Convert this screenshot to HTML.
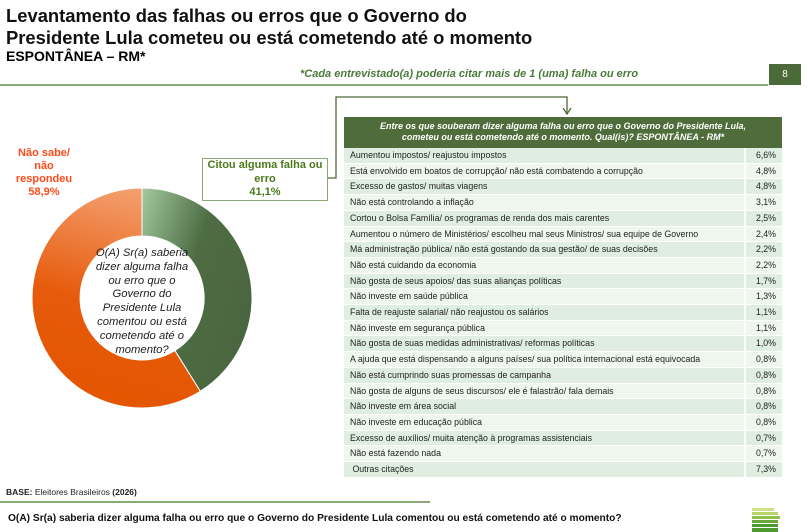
<!DOCTYPE html>
<html><head><meta charset="utf-8"><style>
body{margin:0;width:808px;height:532px;background:#fff;font-family:"Liberation Sans",sans-serif;position:relative;overflow:hidden}
.a{position:absolute}
.t{left:6px;top:5px;font-size:18.4px;font-weight:bold;line-height:22px;color:#111}
table{border-collapse:separate;border-spacing:0 1.3px;font-size:8.8px;color:#222}
td{height:14.7px;padding:0 0 0 6px;line-height:14.7px}
tr:nth-child(odd) td{background:#dfeee0}
tr:nth-child(even) td{background:#eef6ee}
td.v{text-align:right;padding-right:6px;border-left:2px solid #fff}
</style></head><body>
<div class="a t">Levantamento das falhas ou erros que o Governo do<br>Presidente Lula cometeu ou está cometendo até o momento</div>
<div class="a" style="left:6px;top:48px;font-size:14px;font-weight:bold">ESPONTÂNEA – RM*</div>
<div class="a" style="left:300px;top:68px;font-size:11px;font-style:italic;font-weight:bold;color:#4a7a3a">*Cada entrevistado(a) poderia citar mais de 1 (uma) falha ou erro</div>
<div class="a" style="left:0;top:84px;width:768px;height:2px;background:#8aa878"></div>
<div class="a" style="left:769px;top:64px;width:32px;height:21px;background:#4a6a38;color:#fff;font-size:10px;text-align:center;line-height:21px">8</div>

<svg class="a" style="left:0;top:0" width="808" height="532">
<defs>
<linearGradient id="g" x1="0" y1="0" x2="1" y2="0.6"><stop offset="0" stop-color="#a3c9a0"/><stop offset="0.5" stop-color="#4e6d43"/><stop offset="1" stop-color="#4a6640"/></linearGradient>
<linearGradient id="o" x1="0.6" y1="0" x2="0.4" y2="1"><stop offset="0" stop-color="#f4a070"/><stop offset="0.55" stop-color="#e65a0a"/><stop offset="1" stop-color="#e45500"/></linearGradient>
</defs>
<path d="M142 188 A110 110 0 0 1 200.3 391.3 L174.9 350.6 A62 62 0 0 0 142 236 Z" fill="url(#g)" stroke="#fff" stroke-width="1"/>
<path d="M200.3 391.3 A110 110 0 1 1 142 188 L142 236 A62 62 0 1 0 174.9 350.6 Z" fill="url(#o)" stroke="#fff" stroke-width="1"/>
<polyline points="327,178 336,178 336,97 567,97 567,113" fill="none" stroke="#4a6a38" stroke-width="1.3"/>
<polyline points="563,108 567,114 571,108" fill="none" stroke="#4a6a38" stroke-width="1.3"/>
<line x1="0" y1="502" x2="430" y2="502" stroke="#8aa878" stroke-width="2"/>
<rect x="752" y="508" width="22" height="3" fill="#cde08a"/>
<rect x="752" y="512" width="26" height="3" fill="#b6d468"/>
<rect x="752" y="516" width="28" height="3" fill="#8fc04a"/>
<rect x="752" y="520" width="26" height="3" fill="#6aa83a"/>
<rect x="752" y="524" width="26" height="3" fill="#4f9a30"/>
<rect x="752" y="528" width="26" height="4" fill="#4f9a30"/>
</svg>
<div class="a" style="left:90px;top:247px;width:104px;text-align:center;font-size:11.3px;font-style:italic;line-height:13.8px;color:#222">O(A) Sr(a) saberia dizer alguma falha ou erro que o Governo do Presidente Lula comentou ou está cometendo até o momento?</div>
<div class="a" style="left:6px;top:147px;width:76px;text-align:center;font-size:11px;font-weight:bold;color:#ff4a1a;line-height:13px">Não sabe/<br>não<br>respondeu<br>58,9%</div>
<div class="a" style="left:202px;top:158px;width:124px;height:41px;border:1px solid #8aa878;background:#fff;text-align:center;font-size:11px;font-weight:bold;color:#4a7a1a;line-height:13.5px">Citou alguma falha ou erro<br>41,1%</div>
<div class="a" style="left:344px;top:117px;width:438px;height:31px;background:#4e6d3a;color:#fff;font-size:9px;font-style:italic;font-weight:bold;text-align:center;line-height:11px;padding-top:4px;box-sizing:border-box">Entre os que souberam dizer alguma falha ou erro que o Governo do Presidente Lula,<br>cometeu ou está cometendo até o momento. Qual(is)? ESPONTÂNEA - RM*</div>
<table class="a" style="left:344px;top:147px;width:438px">
<tr><td>Aumentou impostos/ reajustou impostos</td><td class="v">6,6%</td></tr>
<tr><td>Está envolvido em boatos de corrupção/ não está combatendo a corrupção</td><td class="v">4,8%</td></tr>
<tr><td>Excesso de gastos/ muitas viagens</td><td class="v">4,8%</td></tr>
<tr><td>Não está controlando a inflação</td><td class="v">3,1%</td></tr>
<tr><td>Cortou o Bolsa Família/ os programas de renda dos mais carentes</td><td class="v">2,5%</td></tr>
<tr><td>Aumentou o número de Ministérios/ escolheu mal seus Ministros/ sua equipe de Governo</td><td class="v">2,4%</td></tr>
<tr><td>Má administração pública/ não está gostando da sua gestão/ de suas decisões</td><td class="v">2,2%</td></tr>
<tr><td>Não está cuidando da economia</td><td class="v">2,2%</td></tr>
<tr><td>Não gosta de seus apoios/ das suas alianças políticas</td><td class="v">1,7%</td></tr>
<tr><td>Não investe em saúde pública</td><td class="v">1,3%</td></tr>
<tr><td>Falta de reajuste salarial/ não reajustou os salários</td><td class="v">1,1%</td></tr>
<tr><td>Não investe em segurança pública</td><td class="v">1,1%</td></tr>
<tr><td>Não gosta de suas medidas administrativas/ reformas políticas</td><td class="v">1,0%</td></tr>
<tr><td>A ajuda que está dispensando a alguns países/ sua política internacional está equivocada</td><td class="v">0,8%</td></tr>
<tr><td>Não está cumprindo suas promessas de campanha</td><td class="v">0,8%</td></tr>
<tr><td>Não gosta de alguns de seus discursos/ ele é falastrão/ fala demais</td><td class="v">0,8%</td></tr>
<tr><td>Não investe em área social</td><td class="v">0,8%</td></tr>
<tr><td>Não investe em educação pública</td><td class="v">0,8%</td></tr>
<tr><td>Excesso de auxílios/ muita atenção à programas assistenciais</td><td class="v">0,7%</td></tr>
<tr><td>Não está fazendo nada</td><td class="v">0,7%</td></tr>
<tr><td>&nbsp;Outras citações</td><td class="v">7,3%</td></tr>
</table>
<div class="a" style="left:6px;top:487px;font-size:8.5px;color:#222"><b>BASE:</b> Eleitores Brasileiros <b>(2026)</b></div>
<div class="a" style="left:8px;top:513px;font-size:10.2px;font-weight:bold;color:#111">O(A) Sr(a) saberia dizer alguma falha ou erro que o Governo do Presidente Lula comentou ou está cometendo até o momento?</div>
</body></html>
